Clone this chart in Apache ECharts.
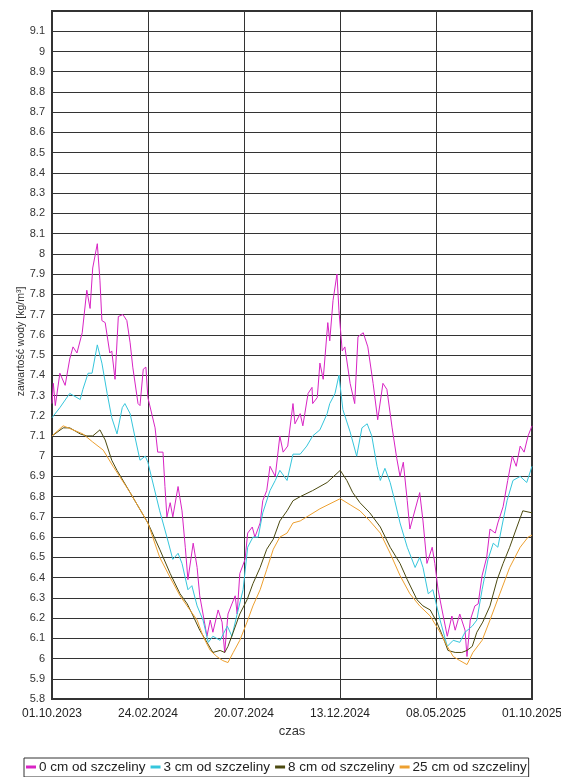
<!DOCTYPE html>
<html><head><meta charset="utf-8">
<script src="https://cdn.jsdelivr.net/npm/echarts@6/dist/echarts.min.js"></script>
<style>html,body{margin:0;padding:0;background:#fff}#c{width:561px;height:777px}</style>
</head><body><div id="c"></div>
<script>
// x values: days since 01.10.2023
var totalDays = 731;
var xTickLabels = ['01.10.2023', '24.02.2024', '20.07.2024', '13.12.2024', '08.05.2025', '01.10.2025'];
var seriesNames = ['0 cm od szczeliny', '3 cm od szczeliny', '8 cm od szczeliny', '25 cm od szczeliny'];
var colors = ['#d824c4', '#36c6dc', '#4c4a10', '#eda030'];

var s0 = [[0,7.26],[2,7.36],[5,7.25],[12,7.41],[20,7.35],[27,7.48],[32,7.54],[38,7.51],[46,7.61],[53,7.82],[58,7.73],[62,7.93],[69,8.05],[73,7.87],[76,7.67],[81,7.66],[88,7.51],[91,7.52],[96,7.38],[101,7.69],[108,7.70],[114,7.67],[119,7.56],[123,7.44],[131,7.26],[134,7.25],[139,7.43],[143,7.44],[146,7.29],[157,7.14],[161,7.02],[169,7.02],[172,6.85],[175,6.70],[180,6.77],[184,6.70],[192,6.85],[198,6.73],[203,6.55],[207,6.39],[215,6.57],[221,6.45],[225,6.31],[230,6.22],[236,6.11],[241,6.19],[245,6.13],[253,6.24],[259,6.18],[263,6.03],[268,6.22],[274,6.27],[279,6.31],[282,6.22],[286,6.42],[294,6.49],[298,6.62],[305,6.65],[309,6.60],[317,6.67],[321,6.78],[327,6.83],[332,6.95],[340,6.90],[347,7.10],[352,7.02],[359,7.05],[367,7.26],[370,7.16],[378,7.21],[382,7.15],[390,7.31],[396,7.34],[397,7.26],[404,7.29],[408,7.46],[413,7.38],[420,7.66],[423,7.57],[428,7.77],[434,7.90],[437,7.72],[442,7.52],[446,7.54],[454,7.36],[461,7.26],[466,7.59],[474,7.61],[481,7.54],[489,7.36],[496,7.18],[504,7.36],[510,7.33],[518,7.14],[525,6.99],[530,6.90],[535,6.97],[541,6.78],[545,6.64],[550,6.70],[560,6.82],[565,6.68],[571,6.47],[579,6.55],[583,6.47],[588,6.34],[594,6.24],[602,6.11],[609,6.21],[614,6.14],[621,6.22],[629,6.14],[632,6.01],[637,6.19],[644,6.26],[649,6.27],[655,6.41],[662,6.50],[667,6.64],[675,6.62],[679,6.67],[687,6.75],[694,6.88],[701,7.00],[707,6.95],[713,7.05],[719,7.02],[725,7.10],[731,7.15]];

var s3 = [[0,7.19],[12,7.24],[27,7.31],[43,7.28],[47,7.33],[55,7.41],[61,7.41],[69,7.55],[76,7.46],[84,7.31],[91,7.19],[99,7.11],[107,7.24],[111,7.26],[119,7.21],[126,7.10],[134,6.98],[142,7.00],[146,6.97],[164,6.73],[175,6.60],[184,6.49],[192,6.52],[198,6.47],[207,6.34],[213,6.36],[221,6.26],[230,6.19],[238,6.08],[245,6.11],[256,6.09],[267,6.16],[274,6.11],[282,6.22],[291,6.34],[298,6.55],[306,6.60],[314,6.60],[321,6.72],[332,6.83],[340,6.88],[347,6.93],[358,6.88],[367,7.01],[378,7.01],[388,7.05],[397,7.10],[408,7.13],[419,7.21],[423,7.26],[431,7.31],[437,7.40],[443,7.23],[454,7.12],[464,7.00],[472,7.14],[480,7.16],[487,7.10],[495,6.95],[500,6.88],[507,6.94],[515,6.87],[522,6.78],[530,6.67],[541,6.55],[553,6.45],[560,6.50],[565,6.45],[573,6.32],[580,6.34],[591,6.19],[602,6.06],[611,6.09],[621,6.08],[629,6.13],[640,6.16],[647,6.19],[655,6.34],[664,6.49],[672,6.57],[679,6.55],[685,6.65],[693,6.78],[702,6.88],[713,6.90],[723,6.87],[731,6.95]];

var s8 = [[0,7.10],[17,7.14],[27,7.14],[43,7.11],[53,7.10],[62,7.10],[73,7.13],[81,7.08],[91,6.98],[99,6.93],[119,6.82],[146,6.67],[164,6.54],[180,6.42],[195,6.32],[206,6.27],[215,6.21],[225,6.14],[236,6.08],[245,6.03],[256,6.04],[263,6.03],[268,6.06],[276,6.13],[286,6.22],[297,6.29],[306,6.37],[317,6.45],[327,6.54],[337,6.59],[347,6.68],[358,6.73],[367,6.78],[378,6.80],[397,6.83],[419,6.87],[439,6.93],[449,6.88],[458,6.82],[469,6.77],[484,6.72],[500,6.65],[515,6.55],[530,6.47],[541,6.39],[556,6.29],[565,6.26],[576,6.24],[586,6.18],[595,6.11],[603,6.04],[614,6.03],[624,6.03],[632,6.04],[640,6.06],[647,6.13],[656,6.18],[667,6.26],[678,6.39],[687,6.47],[697,6.55],[708,6.65],[717,6.73],[731,6.72]];

var s25 = [[0,7.10],[17,7.15],[32,7.13],[47,7.11],[62,7.07],[78,7.03],[93,6.95],[119,6.82],[146,6.67],[164,6.50],[180,6.40],[195,6.31],[210,6.24],[221,6.19],[230,6.11],[241,6.04],[251,6.01],[260,5.99],[268,5.98],[276,6.03],[286,6.09],[297,6.18],[306,6.26],[317,6.34],[327,6.44],[337,6.54],[347,6.60],[358,6.62],[367,6.67],[378,6.68],[408,6.74],[439,6.79],[454,6.76],[469,6.73],[484,6.68],[500,6.62],[515,6.52],[530,6.41],[545,6.32],[560,6.26],[576,6.21],[591,6.13],[602,6.06],[611,6.01],[621,5.99],[632,5.97],[641,6.03],[655,6.09],[667,6.19],[682,6.32],[697,6.45],[713,6.55],[725,6.60],[731,6.61]];

var yMin = 5.8, yMax = 9.2, yStep = 0.1;
var xStep = totalDays / (xTickLabels.length - 1);

var chart = echarts.init(document.getElementById('c'), null, {renderer:'canvas'});
var font = 'Liberation Sans, Arial, sans-serif';
var allData = [s0, s3, s8, s25];
chart.setOption({
  animation: false,
  backgroundColor: '#fff',
  textStyle: {fontFamily: font},
  grid: {left: 52, right: 29, top: 11, bottom: 78, containLabel: false, outerBoundsMode: 'none',
    show: true, borderColor: '#333', borderWidth: 2, backgroundColor: 'transparent'},
  legend: {
    data: seriesNames, top: 758, left: 24,
    borderColor: '#333', borderWidth: 1, padding: [2, 2, 3, 2],
    itemGap: 5, itemWidth: 10, itemHeight: 3, icon: 'rect',
    textStyle: {fontSize: 13.5, color: '#222', fontFamily: font, padding: [0,0,0,-2]}
  },
  xAxis: {
    type: 'value', min: 0, max: totalDays, interval: xStep,
    name: 'czas', nameLocation: 'middle', nameGap: 26, nameMoveOverlap: false,
    nameTextStyle: {fontSize: 13, color: '#333'},
    axisLine: {show: true, lineStyle: {color: '#333', width: 2}},
    axisTick: {show: false},
    axisLabel: {fontSize: 12, color: '#222', margin: 9, showMinLabel: true, showMaxLabel: true,
      formatter: function(v){ return xTickLabels[Math.round(v / xStep)]; }},
    splitLine: {show: true, lineStyle: {color: '#333', width: 1}}
  },
  yAxis: {
    type: 'value', min: yMin, max: yMax, interval: yStep,
    name: 'zawartość wody [kg/m³]', nameLocation: 'middle', nameGap: 25, nameRotate: 90, nameMoveOverlap: false,
    nameTextStyle: {fontSize: 10.5, color: '#333', padding: [0, 0, 0, 27]},
    axisLine: {show: true, lineStyle: {color: '#333', width: 2}},
    axisTick: {show: false},
    axisLabel: {fontSize: 11, color: '#333', margin: 7, showMaxLabel: false,
      formatter: function(v){ return String(+v.toFixed(1)); }},
    splitLine: {show: true, lineStyle: {color: '#333', width: 1}}
  },
  series: seriesNames.map(function(n, i){
    return {name: n, type: 'line', data: allData[i], showSymbol: false, symbol: 'none',
      lineStyle: {color: colors[i], width: 1}, itemStyle: {color: colors[i]}};
  })
});
</script></body></html>
